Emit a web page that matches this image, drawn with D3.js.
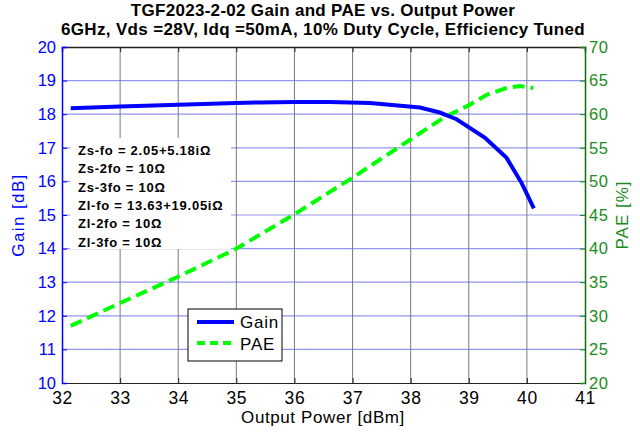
<!DOCTYPE html>
<html>
<head>
<meta charset="utf-8">
<script src="https://cdn.jsdelivr.net/npm/d3@7"></script>
<style>
  body { margin: 0; background: #fff; }
  text { font-family: "Liberation Sans", Arial, sans-serif; }
</style>
</head>
<body>
<div id="chart"></div>
<script>
var width = 640;
var height = 433;

var margin = { top: 47, right: 55, bottom: 50, left: 62 };

var gainPout = [32.15, 33, 34, 35, 35.4, 36, 36.6, 37.3, 38.16, 38.5, 38.79, 39.28, 39.65, 39.91, 40.12];
var gainVals = [18.18, 18.23, 18.28, 18.33, 18.35, 18.36, 18.36, 18.33, 18.2, 18.05, 17.85, 17.3, 16.7, 15.95, 15.2];

var paePout = [32.15, 33, 33.97, 34.98, 35.98, 36.99, 37.99, 38.59, 38.97, 39.31, 39.65, 39.88, 40.11];
var paeVals = [28.5, 31.9, 35.7, 39.9, 45.0, 50.5, 56.2, 59.6, 61.2, 62.9, 63.9, 64.2, 63.9];

var xTicks = [32, 33, 34, 35, 36, 37, 38, 39, 40, 41];
var gainTicks = [10, 11, 12, 13, 14, 15, 16, 17, 18, 19, 20];
var paeTicks = [20, 25, 30, 35, 40, 45, 50, 55, 60, 65, 70];

var notes = [
  "Zs-fo = 2.05+5.18i\u03A9",
  "Zs-2fo = 10\u03A9",
  "Zs-3fo = 10\u03A9",
  "Zl-fo = 13.63+19.05i\u03A9",
  "Zl-2fo = 10\u03A9",
  "Zl-3fo = 10\u03A9"
];

var blue = "#0000ff";
var green = "#00ff00";
var darkGreen = "#1a8c1a";
var font = "Liberation Sans, Arial, sans-serif";

var svg = d3.select("#chart")
  .append("svg")
  .attr("width", width)
  .attr("height", height);

var x0 = margin.left, x1 = width - margin.right;
var y0 = margin.top, y1 = height - margin.bottom;

var xScale = d3.scaleLinear().domain([32, 41]).range([x0, x1]);
var yGain = d3.scaleLinear().domain([10, 20]).range([y1, y0]);
var yPae = d3.scaleLinear().domain([20, 70]).range([y1, y0]);

// grid
svg.append("g")
  .selectAll("line")
  .data(gainTicks.slice(1, -1))
  .enter()
  .append("line")
  .attr("x1", x0).attr("x2", x1)
  .attr("y1", d => yGain(d)).attr("y2", d => yGain(d))
  .attr("stroke", "#9494f2")
  .attr("stroke-width", 1.2);

svg.append("g")
  .selectAll("line")
  .data(xTicks.slice(1, -1))
  .enter()
  .append("line")
  .attr("x1", d => xScale(d)).attr("x2", d => xScale(d))
  .attr("y1", y0).attr("y2", y1)
  .attr("stroke", "#7a7a7a")
  .attr("stroke-width", 1);

// annotation block with white background
svg.append("rect")
  .attr("x", 70).attr("y", 138)
  .attr("width", 161).attr("height", 111)
  .attr("fill", "#fff");

svg.append("g")
  .selectAll("text")
  .data(notes)
  .enter()
  .append("text")
  .attr("x", 78)
  .attr("y", (d, i) => 155 + i * 18.3)
  .attr("font-size", 13)
  .attr("font-weight", "bold")
  .attr("letter-spacing", 0.75)
  .text(d => d);

// axes
var xAxis = d3.axisBottom(xScale).tickValues(xTicks).tickSize(-5).tickPadding(9);
svg.append("g")
  .attr("transform", "translate(0," + y1 + ")")
  .call(xAxis)
  .call(g => g.select(".domain").attr("stroke", "#222"))
  .call(g => g.selectAll(".tick line").attr("stroke", "#222"))
  .call(g => g.selectAll(".tick text")
    .attr("font-size", 17.5).attr("fill", "#000")
    .attr("font-family", font)
    .attr("letter-spacing", 0.6));

svg.append("g")
  .attr("transform", "translate(0," + y0 + ")")
  .call(d3.axisTop(xScale).tickValues(xTicks).tickSize(-5).tickFormat(""))
  .call(g => g.select(".domain").attr("stroke", "#222").attr("stroke-width", 1.5))
  .call(g => g.selectAll(".tick line").attr("stroke", "#222"));

svg.append("g")
  .attr("transform", "translate(" + x0 + ",0)")
  .call(d3.axisLeft(yGain).tickValues(gainTicks).tickSize(-5).tickPadding(6))
  .call(g => g.select(".domain").attr("stroke", blue).attr("stroke-width", 1.5))
  .call(g => g.selectAll(".tick line").attr("stroke", blue))
  .call(g => g.selectAll(".tick text")
    .attr("font-size", 16.5).attr("fill", blue)
    .attr("font-family", font));

svg.append("g")
  .attr("transform", "translate(" + x1 + ",0)")
  .call(d3.axisRight(yPae).tickValues(paeTicks).tickSize(-5).tickPadding(4))
  .call(g => g.select(".domain").attr("stroke", "#0a6e0a").attr("stroke-width", 1.5))
  .call(g => g.selectAll(".tick line").attr("stroke", darkGreen))
  .call(g => g.selectAll(".tick text")
    .attr("font-size", 16.5).attr("fill", darkGreen)
    .attr("font-family", font)
    .attr("letter-spacing", 0.5));

// curves
var gainLine = d3.line()
  .x((d, i) => xScale(gainPout[i]))
  .y(d => yGain(d));

var paeLine = d3.line()
  .x((d, i) => xScale(paePout[i]))
  .y(d => yPae(d));

svg.append("path")
  .datum(paeVals)
  .attr("d", paeLine)
  .attr("fill", "none")
  .attr("stroke", green)
  .attr("stroke-width", 4)
  .attr("stroke-dasharray", "12,6");

svg.append("path")
  .datum(gainVals)
  .attr("d", gainLine)
  .attr("fill", "none")
  .attr("stroke", blue)
  .attr("stroke-width", 4);

// legend
var legend = svg.append("g").attr("transform", "translate(188,309)");
legend.append("rect")
  .attr("width", 94).attr("height", 52)
  .attr("fill", "#fff")
  .attr("stroke", "#000")
  .attr("stroke-width", 1);
legend.append("line")
  .attr("x1", 9).attr("x2", 46).attr("y1", 13).attr("y2", 13)
  .attr("stroke", blue).attr("stroke-width", 4);
legend.append("line")
  .attr("x1", 9).attr("x2", 46).attr("y1", 34).attr("y2", 34)
  .attr("stroke", green).attr("stroke-width", 4)
  .attr("stroke-dasharray", "8,5");
legend.append("text").attr("x", 52).attr("y", 19).attr("font-size", 17).attr("letter-spacing", 0.8).text("Gain");
legend.append("text").attr("x", 52).attr("y", 41).attr("font-size", 17).attr("letter-spacing", 0.8).text("PAE");

// titles
svg.append("text")
  .attr("x", 323).attr("y", 16)
  .attr("text-anchor", "middle")
  .attr("font-size", 17)
  .attr("font-weight", "bold")
  .attr("letter-spacing", 0.3)
  .text("TGF2023-2-02 Gain and PAE vs. Output Power");
svg.append("text")
  .attr("x", 323).attr("y", 35)
  .attr("text-anchor", "middle")
  .attr("font-size", 17)
  .attr("font-weight", "bold")
  .attr("letter-spacing", 0.35)
  .text("6GHz, Vds =28V, Idq =50mA, 10% Duty Cycle, Efficiency Tuned");

svg.append("text")
  .attr("x", 323).attr("y", 423)
  .attr("text-anchor", "middle")
  .attr("font-size", 17)
  .attr("letter-spacing", 0.6)
  .text("Output Power [dBm]");

svg.append("text")
  .attr("transform", "translate(24," + ((y0 + y1) / 2) + ") rotate(-90)")
  .attr("text-anchor", "middle")
  .attr("font-size", 17)
  .attr("letter-spacing", 1.4)
  .attr("fill", blue)
  .text("Gain [dB]");

svg.append("text")
  .attr("transform", "translate(628," + ((y0 + y1) / 2) + ") rotate(-90)")
  .attr("text-anchor", "middle")
  .attr("font-size", 17)
  .attr("letter-spacing", 1)
  .attr("fill", darkGreen)
  .text("PAE [%]");
</script>
</body>
</html>
